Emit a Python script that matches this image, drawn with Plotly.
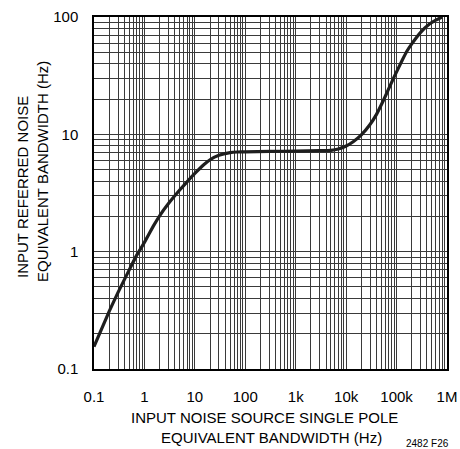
import plotly.graph_objects as go

# Data
x_bw = [0.1, 0.2, 0.3, 0.5, 0.7, 1, 1.5, 2, 3, 5, 7, 10, 15, 20, 30, 50, 70,
        100, 300, 1000, 3000, 5000, 7000, 10000, 14000, 20000, 30000, 40000, 55000,
        70000, 90000, 130000, 160000, 200000, 300000, 450000, 600000, 800000]
y_nbw = [0.155, 0.31, 0.45, 0.70, 0.93, 1.2, 1.65, 2.02, 2.57, 3.35, 3.94, 4.64,
         5.5, 6.07, 6.63, 6.98, 7.07, 7.1, 7.15, 7.2, 7.25, 7.3, 7.5, 7.95, 8.7, 9.9,
         12.2, 14.8, 19.5, 24.5, 31, 43, 51, 59, 74, 87, 94, 100]

x_tickvals = [0.1, 1, 10, 100, 1e3, 1e4, 1e5, 1e6]
x_ticktext = ["0.1", "1", "10", "100", "1k", "10k", "100k", "1M"]
y_tickvals = [0.1, 1, 10, 100]
y_ticktext = ["0.1", "1", "10", "100"]

FONT = "Liberation Sans Narrow, Arial Narrow, Liberation Sans, Arial, sans-serif"
GRID = "#3a3a3a"

fig = go.Figure()
fig.add_trace(go.Scatter(x=x_bw, y=y_nbw, mode="lines",
                         line=dict(color="#1e1e1e", width=3.2, shape="spline", smoothing=0.3),
                         hoverinfo="skip", showlegend=False))

axis_common = dict(
    type="log", showline=True, linecolor="black", linewidth=1.5, mirror=True,
    showgrid=True, gridcolor=GRID, gridwidth=1, zeroline=False, automargin=False,
    ticks="", tickfont=dict(family=FONT, size=15, color="black"),
    minor=dict(showgrid=True, gridcolor=GRID, gridwidth=1, dtick="D1", ticks=""),
)

fig.update_xaxes(range=[-1, 6], tickvals=x_tickvals, ticktext=x_ticktext,
                 ticklabelstandoff=13, **axis_common)
fig.update_yaxes(range=[-1, 2], tickvals=y_tickvals, ticktext=y_ticktext,
                 ticklabelstandoff=11, **axis_common)

tf = dict(family=FONT, size=15, color="black")
fig.add_annotation(text="INPUT NOISE SOURCE SINGLE POLE", xref="paper", yref="paper",
                   x=0.483, y=0, yshift=-48, xanchor="center", yanchor="middle",
                   showarrow=False, font=tf)
fig.add_annotation(text="EQUIVALENT BANDWIDTH (Hz)", xref="paper", yref="paper",
                   x=0.504, y=0, yshift=-68, xanchor="center", yanchor="middle",
                   showarrow=False, font=tf)
fig.add_annotation(text="INPUT REFERRED NOISE", xref="paper", yref="paper",
                   x=0, y=0.517, xshift=-72, xanchor="center", yanchor="middle",
                   textangle=-90, showarrow=False, font=tf)
fig.add_annotation(text="EQUIVALENT BANDWIDTH (Hz)", xref="paper", yref="paper",
                   x=0, y=0.56, xshift=-51, xanchor="center", yanchor="middle",
                   textangle=-90, showarrow=False, font=tf)
fig.add_annotation(text="2482 F26", xref="paper", yref="paper", x=0.946, y=0, yshift=-74,
                   xanchor="center", yanchor="middle", showarrow=False,
                   font=dict(family=FONT, size=10, color="black"))

fig.update_layout(width=460, height=449, margin=dict(l=94, r=13, t=17, b=80),
                  plot_bgcolor="white", paper_bgcolor="white",
                  font=dict(family=FONT, color="black"))

fig.write_html("out.html", config={"displayModeBar": False},
               post_script="document.body.style.margin='0';document.body.style.overflow='hidden';")
